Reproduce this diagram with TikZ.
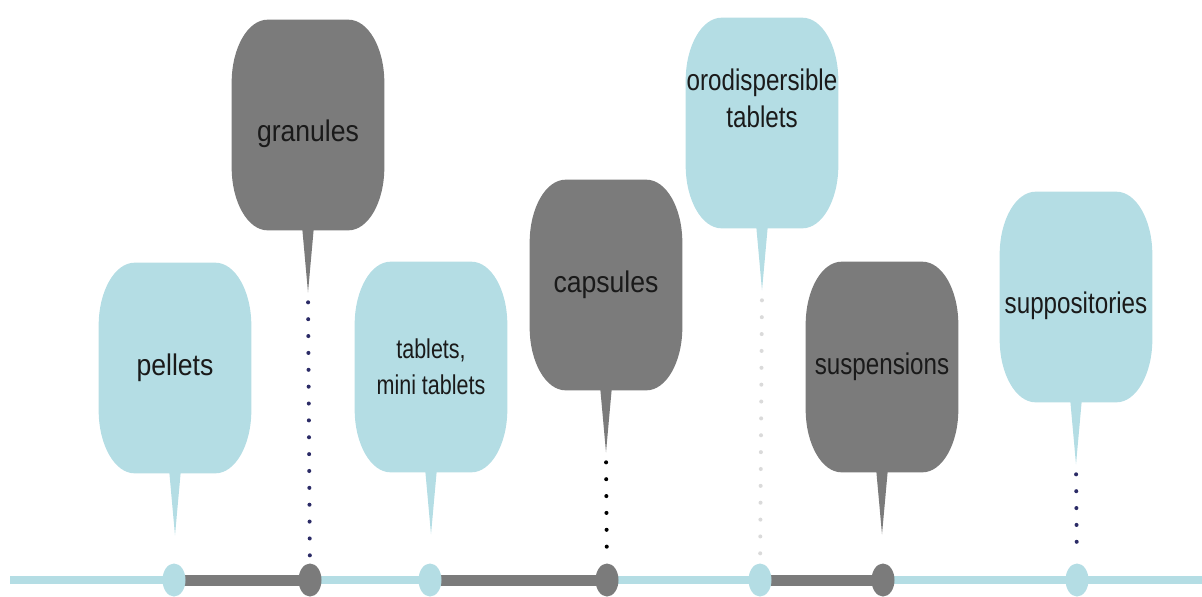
\documentclass[tikz,border=0pt]{standalone}
\usepackage{fontspec}
\newfontfamily\condwide[FakeStretch=0.89]{Liberation Sans}
\newfontfamily\condmid[FakeStretch=0.81]{Liberation Sans}
\newfontfamily\condnarrow[FakeStretch=0.79]{Liberation Sans}
\usetikzlibrary{shapes.geometric,backgrounds}
\definecolor{pillblue}{HTML}{B4DDE4}
\definecolor{pillgrey}{HTML}{7B7B7B}
\definecolor{dotnavy}{HTML}{2B2B66}
\definecolor{dotlight}{HTML}{DADADA}
\definecolor{inkgrey}{HTML}{1A1A1A}
\tikzstyle{pill}=[rectangle,minimum width=3.04cm,minimum height=4.2cm,inner sep=0pt,align=center,text=inkgrey]
\tikzstyle{bigtext}=[font=\condwide\fontsize{17}{21}\selectfont]
\tikzstyle{smalltext}=[font=\condmid\fontsize{17}{21}\selectfont]
\tikzstyle{tinytext}=[font=\condnarrow\fontsize{15.5}{20.5}\selectfont]
\tikzstyle{asis}=[]
\tikzstyle{lowtext}=[text height=0.8cm]
\tikzstyle{hightext}=[text depth=1cm]
\tikzstyle{stopdot}=[ellipse,minimum width=0.46cm,minimum height=0.66cm,inner sep=0pt]
\tikzstyle{track}=[draw=pillblue,line width=0.17cm]
\tikzstyle{segment}=[draw=pillgrey,line width=0.22cm]
\tikzstyle{dotline}=[line width=2.3pt,line cap=round,dash pattern=on 0pt off 9.6pt,shorten <=0.2cm,shorten >=0.1cm]

\begin{document}
\begin{tikzpicture}[x=0.02cm,y=-0.02cm]
\useasboundingbox (0,0) rectangle (1202,596);

    % bubbles
    \foreach \pos/\name/\fnt/\opt/\txt in {{(175,368)/pel/bigtext/asis/pellets}, {(308,125)/gra/bigtext/lowtext/granules},
        {(431,367)/tab/tinytext/asis/{tablets,\\mini tablets}}, {(606,285)/cap/bigtext/asis/capsules},
        {(762,123)/odt/smalltext/hightext/{orodispersible\\tablets}}, {(882,367)/sus/smalltext/asis/suspensions},
        {(1076,297)/sup/smalltext/lowtext/suppositories}}
        \node[pill,\fnt,\opt] (\name) at \pos {\txt};

    \foreach \name in {pel,gra,tab,cap,odt,sus,sup}
        \coordinate (\name-tip) at ([yshift=-1.24cm]\name.south);

    % timeline
    \coordinate (start) at (10,580);
    \coordinate (end) at (1202,580);
    \foreach \x/\name/\col in {174/pel/pillblue, 310/gra/pillgrey, 430/tab/pillblue, 607/cap/pillgrey,
        760/odt/pillblue, 883/sus/pillgrey, 1077/sup/pillblue}
        \node[stopdot,fill=\col] (\name-dot) at (\x,580) {};

\begin{scope}[on background layer]
    \draw[track] (start) -- (end);
    \foreach \a/\b in {pel/gra, tab/cap, odt/sus}
        \draw[segment] (\a-dot.center) -- (\b-dot.center);

    % bubble shapes and tails
    \foreach \name/\col in {pel/pillblue, gra/pillgrey, tab/pillblue, cap/pillgrey, odt/pillblue, sus/pillgrey, sup/pillblue}{
        \fill[\col] ([xshift=0.72cm]\name.north west) -- ([xshift=-0.72cm]\name.north east)
            arc[start angle=90,end angle=0,x radius=0.72cm,y radius=1.26cm]
            -- ([yshift=1.26cm]\name.south east)
            arc[start angle=0,end angle=-90,x radius=0.72cm,y radius=1.26cm]
            -- ([xshift=0.72cm]\name.south west)
            arc[start angle=270,end angle=180,x radius=0.72cm,y radius=1.26cm]
            -- ([yshift=-1.26cm]\name.north west)
            arc[start angle=180,end angle=90,x radius=0.72cm,y radius=1.26cm] -- cycle;
        \fill[\col] ([xshift=-0.13cm,yshift=0.2cm]\name.south) -- (\name-tip) -- ([xshift=0.13cm,yshift=0.2cm]\name.south) -- cycle;
    }
\end{scope}

    % dotted drops
    \foreach \name/\col in {gra/dotnavy, cap/black, odt/dotlight, sup/dotnavy}
        \draw[dotline,\col] (\name-tip) -- (\name-dot);

\end{tikzpicture}
\end{document}
